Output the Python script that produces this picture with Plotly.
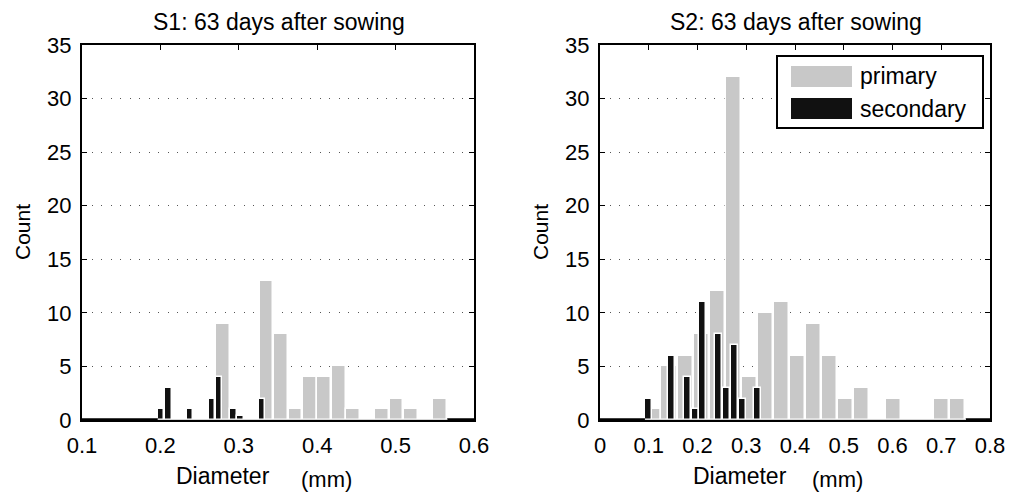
import plotly.graph_objects as go

# ---------------- data ----------------
series_names = ["primary", "secondary"]
titles = ["S1: 63 days after sowing", "S2: 63 days after sowing"]
x_label = ["Diameter", "(mm)"]
y_label = "Count"

# S1 (left panel)
s1_primary_x = [0.2060, 0.2245, 0.2429, 0.2614, 0.2798, 0.2983, 0.3167, 0.3352, 0.3536, 0.3721,
                0.3905, 0.4090, 0.4274, 0.4459, 0.4643, 0.4828, 0.5012, 0.5197, 0.5381, 0.5566]
s1_primary_y = [0, 0, 0, 0, 9, 0, 0, 13, 8, 1, 4, 4, 5, 1, 0, 1, 2, 1, 0, 2]
s1_secondary_x = [0.2011, 0.2103, 0.2379, 0.2655, 0.2747, 0.2931, 0.3023, 0.3299]
s1_secondary_y = [1, 3, 1, 2, 4, 1, 0.4, 2]

# S2 (right panel)
s2_primary_x = [0.1087, 0.1416, 0.1745, 0.2074, 0.2403, 0.2732, 0.3061, 0.3390, 0.3719, 0.4048,
                0.4377, 0.4706, 0.5035, 0.5364, 0.5693, 0.6022, 0.6351, 0.6680, 0.7009, 0.7338]
s2_primary_y = [1, 5, 6, 8, 12, 32, 4, 10, 11, 6, 9, 6, 2, 3, 0, 2, 0, 0, 2, 2]
s2_secondary_x = [0.0985, 0.1470, 0.1790, 0.1950, 0.2112, 0.2434, 0.2595, 0.2756, 0.2917, 0.3239]
s2_secondary_y = [2, 6, 4, 1, 11, 8, 3, 7, 2, 3]

x1_ticks = [0.1, 0.2, 0.3, 0.4, 0.5, 0.6]
x2_ticks = [0, 0.1, 0.2, 0.3, 0.4, 0.5, 0.6, 0.7, 0.8]
y_ticks = [0, 5, 10, 15, 20, 25, 30, 35]

# ---------------- styling ----------------
OFF = 8                      # default page margin of the html body
W, H = 1013 - OFF, 493 - OFF
GRAY = "#c8c8c8"
BLACK = "#111111"
FONT = "Liberation Sans"

def px_x(p):
    return (p - OFF) / W

def px_y(p):
    return 1 - (p - OFF) / H

panels = [
    dict(px=s1_primary_x, py=s1_primary_y, sx=s1_secondary_x, sy=s1_secondary_y,
         xr=[0.1, 0.6], ticks=x1_ticks, dom=[82, 474], pw=0.94, sw=0.0082,
         xa="x", ya="y"),
    dict(px=s2_primary_x, py=s2_primary_y, sx=s2_secondary_x, sy=s2_secondary_y,
         xr=[0.0, 0.8], ticks=x2_ticks, dom=[600, 990], pw=0.94, sw=0.0144,
         xa="x2", ya="y2"),
]

fig = go.Figure()

for p in panels:
    binw = p["px"][1] - p["px"][0]
    fig.add_trace(go.Bar(
        x=p["px"], y=p["py"], width=binw * p["pw"], name=series_names[0],
        marker=dict(color=GRAY, line=dict(color="white", width=1.5)),
        xaxis=p["xa"], yaxis=p["ya"], showlegend=False))
    fig.add_trace(go.Bar(
        x=p["sx"], y=p["sy"], width=p["sw"], name=series_names[1],
        marker=dict(color=BLACK, line=dict(color="white", width=1.5)),
        xaxis=p["xa"], yaxis=p["ya"], showlegend=False))
    # baseline: black outside the binned range, light inside
    lo = p["px"][0] - binw / 2
    hi = p["px"][-1] + binw / 2
    fig.add_trace(go.Scatter(
        x=[p["xr"][0], lo, None, hi, p["xr"][1]], y=[0, 0, None, 0, 0],
        mode="lines", line=dict(color="black", width=3.5), cliponaxis=False,
        xaxis=p["xa"], yaxis=p["ya"], showlegend=False, hoverinfo="skip"))
    fig.add_trace(go.Scatter(
        x=[lo, hi], y=[0, 0], mode="lines", line=dict(color="#d8d8d8", width=2),
        cliponaxis=False, xaxis=p["xa"], yaxis=p["ya"], showlegend=False,
        hoverinfo="skip"))

axis_common = dict(
    showline=True, linecolor="black", linewidth=2, mirror="ticks",
    ticks="inside", ticklen=5, tickwidth=1, tickcolor="black",
    tickfont=dict(family=FONT, size=22, color="black"),
    zeroline=False, layer="below traces", fixedrange=True, automargin=False,
)

layout_axes = {}
for i, p in enumerate(panels):
    xname = "xaxis" if i == 0 else "xaxis2"
    yname = "yaxis" if i == 0 else "yaxis2"
    layout_axes[xname] = dict(
        axis_common, domain=[px_x(p["dom"][0]), px_x(p["dom"][1])], range=p["xr"],
        tickvals=p["ticks"], ticktext=[("%g" % t) for t in p["ticks"]],
        showgrid=False, anchor=p["ya"], ticklabelstandoff=5)
    layout_axes[yname] = dict(
        axis_common, domain=[px_y(420), px_y(45)], range=[0, 35],
        tickvals=y_ticks, showgrid=True, gridcolor="#555555", gridwidth=1,
        griddash="1px,8.5px", anchor=p["xa"], ticklabelstandoff=4)

annotations = []
shapes = []
for i, p in enumerate(panels):
    cx = (p["dom"][0] + p["dom"][1]) / 2
    annotations.append(dict(
        text=titles[i], x=px_x(cx + 1), y=px_y(22), xref="paper", yref="paper",
        showarrow=False, font=dict(family=FONT, size=23, color="black"),
        xanchor="center", yanchor="middle"))
    annotations.append(dict(
        text=y_label, x=px_x(p["dom"][0] - 60), y=px_y(232), xref="paper", yref="paper",
        showarrow=False, textangle=-90, font=dict(family=FONT, size=21, color="black"),
        xanchor="center", yanchor="middle"))
    annotations.append(dict(
        text=x_label[0], x=px_x(cx - 55), y=px_y(476), xref="paper", yref="paper",
        showarrow=False, font=dict(family=FONT, size=23, color="black"),
        xanchor="center", yanchor="middle"))
    annotations.append(dict(
        text=x_label[1], x=px_x(cx + (48 if i == 0 else 42)), y=px_y(479),
        xref="paper", yref="paper",
        showarrow=False, font=dict(family=FONT, size=22, color="black"),
        xanchor="center", yanchor="middle"))

# legend box (right panel)
shapes.append(dict(type="rect", xref="paper", yref="paper",
                   x0=px_x(777), x1=px_x(983), y0=px_y(128), y1=px_y(56),
                   line=dict(color="black", width=2), fillcolor="white", layer="above"))
leg_colors = [GRAY, BLACK]
leg_rows = [(66, 87), (98, 119)]
for name, col, (t, b) in zip(series_names, leg_colors, leg_rows):
    shapes.append(dict(type="rect", xref="paper", yref="paper",
                       x0=px_x(791), x1=px_x(852), y0=px_y(b), y1=px_y(t),
                       line=dict(width=0), fillcolor=col, layer="above"))
    annotations.append(dict(
        text=name, x=px_x(858), y=px_y((t + b) / 2), xref="paper", yref="paper",
        showarrow=False, font=dict(family=FONT, size=23, color="black"),
        xanchor="left", yanchor="middle"))

fig.update_layout(
    template="none",
    width=W, height=H, margin=dict(l=0, r=0, t=0, b=0, autoexpand=False),
    paper_bgcolor="white", plot_bgcolor="white",
    barmode="overlay", bargap=0, showlegend=False,
    annotations=annotations, shapes=shapes,
    **layout_axes,
)

fig.write_html("out.html")
